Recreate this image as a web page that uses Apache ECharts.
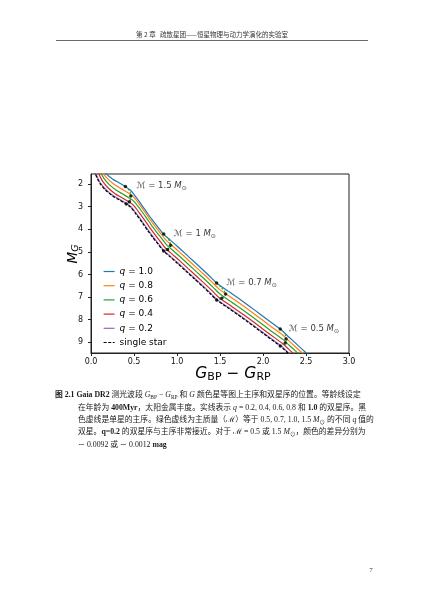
<!DOCTYPE html>
<html><head><meta charset="utf-8">
<script src="https://cdn.jsdelivr.net/npm/echarts@6/dist/echarts.min.js"></script>
<style>html,body{margin:0;padding:0;background:#fff}#c{width:424px;height:600px}</style>
</head><body><div id="c"></div>
<script>
// ---- data (x = G_BP - G_RP, y = M_G) ----
const singleStar = [[0.03,1.40],[0.05,1.55],[0.08,1.80],[0.11,2.00],[0.17,2.27],[0.25,2.52],[0.33,2.70],[0.40,2.86],[0.46,3.02],[0.53,3.36],[0.60,3.73],[0.66,4.06],[0.72,4.37],[0.78,4.66],[0.84,4.95],[0.92,5.22],[1.00,5.49],[1.10,5.84],[1.20,6.19],[1.30,6.54],[1.38,6.83],[1.46,7.13],[1.60,7.50],[1.75,7.90],[1.90,8.32],[2.05,8.75],[2.20,9.17],[2.30,9.52]];
const q02 = [[0.035,1.38],[0.055,1.53],[0.085,1.78],[0.115,1.98],[0.175,2.25],[0.255,2.50],[0.335,2.68],[0.405,2.84],[0.465,3.00],[0.535,3.34],[0.605,3.71],[0.665,4.04],[0.725,4.35],[0.785,4.64],[0.845,4.93],[0.925,5.20],[1.005,5.47],[1.105,5.82],[1.205,6.17],[1.305,6.52],[1.385,6.81],[1.465,7.11],[1.605,7.48],[1.755,7.88],[1.905,8.30],[2.055,8.73],[2.205,9.15],[2.305,9.50],[2.405,9.85]];
const q04 = [[0.06,1.30],[0.08,1.45],[0.11,1.70],[0.14,1.90],[0.20,2.17],[0.28,2.42],[0.36,2.60],[0.43,2.76],[0.49,2.92],[0.56,3.26],[0.63,3.63],[0.69,3.96],[0.75,4.27],[0.81,4.56],[0.87,4.85],[0.95,5.12],[1.03,5.39],[1.13,5.74],[1.23,6.09],[1.33,6.44],[1.41,6.73],[1.49,7.03],[1.63,7.40],[1.78,7.80],[1.93,8.22],[2.08,8.65],[2.23,9.07],[2.33,9.42],[2.43,9.77]];
const q06 = [[0.07,1.14],[0.09,1.29],[0.12,1.54],[0.15,1.74],[0.21,2.01],[0.29,2.26],[0.37,2.44],[0.44,2.60],[0.50,2.76],[0.57,3.10],[0.64,3.47],[0.70,3.80],[0.76,4.11],[0.82,4.40],[0.88,4.69],[0.96,4.96],[1.04,5.23],[1.14,5.58],[1.24,5.93],[1.34,6.28],[1.42,6.57],[1.50,6.87],[1.64,7.24],[1.79,7.64],[1.94,8.06],[2.09,8.49],[2.24,8.91],[2.34,9.26],[2.44,9.61]];
const q08 = [[0.08,1.07],[0.11,1.32],[0.14,1.52],[0.20,1.79],[0.28,2.04],[0.36,2.22],[0.43,2.38],[0.49,2.54],[0.56,2.88],[0.63,3.25],[0.69,3.58],[0.75,3.89],[0.81,4.18],[0.87,4.47],[0.95,4.74],[1.03,5.01],[1.13,5.36],[1.23,5.71],[1.33,6.06],[1.41,6.35],[1.49,6.65],[1.63,7.02],[1.78,7.42],[1.93,7.84],[2.08,8.27],[2.23,8.69],[2.33,9.04],[2.43,9.39],[2.48,9.57]];
const q10 = [[0.05,0.80],[0.08,1.05],[0.11,1.25],[0.17,1.52],[0.25,1.77],[0.33,1.95],[0.40,2.11],[0.46,2.27],[0.53,2.61],[0.60,2.98],[0.66,3.31],[0.72,3.62],[0.78,3.91],[0.84,4.20],[0.92,4.47],[1.00,4.74],[1.10,5.09],[1.20,5.44],[1.30,5.79],[1.38,6.08],[1.46,6.38],[1.60,6.75],[1.75,7.15],[1.90,7.57],[2.05,8.00],[2.20,8.42],[2.30,8.77],[2.40,9.12],[2.50,9.47],[2.55,9.65]];
const arc15 = [[0.40,2.10],[0.445,2.28],[0.463,2.52],[0.447,2.78],[0.41,2.88]];
const arc10 = [[0.845,4.21],[0.90,4.43],[0.925,4.71],[0.89,4.89],[0.845,4.96]];
const arc07 = [[1.46,6.38],[1.525,6.62],[1.565,6.87],[1.52,7.05],[1.46,7.13]];
const arc05 = [[2.20,8.42],[2.25,8.60],[2.268,8.86],[2.258,9.04],[2.20,9.17]];
const dotIndex = [0,2,3,4];
const massLabels = ['1.5','1','0.7','0.5'];
const massLabelPos = [[0.523,2.07],[0.957,4.22],[1.57,6.37],[2.294,8.41]];
const seriesNames = ['q = 1.0','q = 0.8','q = 0.6','q = 0.4','q = 0.2','single star'];
const seriesColors = ['#1f77b4','#ff7f0e','#2ca02c','#d62728','#9467bd','#000000'];
const yTicks = [2,3,4,5,6,7,8,9];

const F = 'DejaVu Sans';
const INK = '#000';
const curves = [q10,q08,q06,q04,q02,singleStar];
const arcs = [arc15,arc10,arc07,arc05];

const series = [];
curves.forEach((d,i)=>{
  series.push({
    name: seriesNames[i], type:'line', data:d, symbol:'none', symbolSize:0, showSymbol:false,
    smooth:0.25, clip:true, z: 2+i,
    lineStyle:{color:seriesColors[i], width:1.2, type: i===5?[3,1.6]:'solid'},
    itemStyle:{color:seriesColors[i]}
  });
});
arcs.forEach(a=>{
  series.push({type:'line', data:a, symbol:'none', smooth:0.4, z:10,
    lineStyle:{color:'#2ca02c', width:1.1, type:[2,1.5]}, silent:true});
});
const dots = [];
arcs.forEach(a=>dotIndex.forEach(k=>dots.push(a[k])));
series.push({type:'scatter', data:dots, symbolSize:3.5, z:11, itemStyle:{color:'#000'}, silent:true});
series.push({type:'scatter', data:massLabelPos.map((p,i)=>[p[0],p[1],i]), symbolSize:1, z:12,
  itemStyle:{color:'rgba(0,0,0,0)'}, silent:true,
  label:{show:true, position:'right', distance:0,
    formatter:p=>'{m|ℳ}{t| = '+massLabels[p.data[2]]+' }{mi|M}{ms|⊙}',
    rich:{
      m:{fontFamily:F,fontSize:8.5,color:INK,fontStyle:'italic',lineHeight:11},
      t:{fontFamily:F,fontSize:8.5,color:INK,lineHeight:11},
      mi:{fontFamily:F,fontSize:8.5,color:INK,fontStyle:'italic',lineHeight:11},
      ms:{fontFamily:F,fontSize:6,color:INK,lineHeight:8,verticalAlign:'bottom'}
    }}
});

const sub = (sz)=>({fontFamily:F,fontSize:sz,color:INK,lineHeight:sz+1,verticalAlign:'bottom'});
const capF = '"Liberation Serif","Noto Sans CJK SC",serif';
const capS = 7.8;
const capRich = {
  b:{fontFamily:capF,fontSize:capS,fontWeight:'bold',color:'#1a1a1a',lineHeight:11},
  i:{fontFamily:capF,fontSize:capS,fontStyle:'italic',color:'#1a1a1a',lineHeight:11},
  s:{fontFamily:capF,fontSize:5.5,color:'#1a1a1a',lineHeight:7,verticalAlign:'bottom'}
};
const captionLines = [
  '{b|图 2.1 Gaia DR2} 测光波段 {i|G}{s|BP} − {i|G}{s|RP} 和 {i|G} 颜色星等图上主序和双星序的位置。等龄线设定',
  '在年龄为 {b|400Myr}，太阳金属丰度。实线表示 {i|q} = 0.2, 0.4, 0.6, 0.8 和 {b|1.0} 的双星序。黑',
  '色虚线是单星的主序。绿色虚线为主质量（ℳ）等于 0.5, 0.7, 1.0, 1.5 {i|M}{s|⊙} 的不同 {i|q} 值的',
  '双星。{b|q=0.2} 的双星序与主序非常接近。对于 ℳ = 0.5 或 1.5 {i|M}{s|⊙}，颜色的差异分别为',
  '∼ 0.0092 或 ∼ 0.0012 {b|mag}'
];
const capX = [55,78,78,78,78];
const capY = [395,407.5,420,432.3,444.5];

const graphic = [
  {type:'text', x:212, y:35, style:{text:'第 2 章   疏散星团——恒星物理与动力学演化的实验室', fontFamily:'"Noto Sans CJK SC"', fontSize:6.5, fill:'#333', align:'center', verticalAlign:'middle'}},
  {type:'line', shape:{x1:56,y1:40.5,x2:368,y2:40.5}, style:{stroke:'#444', lineWidth:0.8}},
  {type:'text', x:233, y:374, style:{
    text:'{g|G}{s|BP}{g| − }{g|G}{s|RP}', align:'center', verticalAlign:'middle',
    rich:{g:{fontFamily:F,fontSize:15.5,fontStyle:'italic',color:INK,lineHeight:17}, s:sub(11)}}},
  {type:'text', x:73, y:254, rotation:Math.PI/2, style:{
    text:'{g|M}{s|G}', align:'center', verticalAlign:'middle',
    rich:{g:{fontFamily:F,fontSize:13.5,fontStyle:'italic',color:INK,lineHeight:15}, s:{fontFamily:F,fontSize:9.5,fontStyle:'italic',color:INK,lineHeight:10,verticalAlign:'bottom'}}}},
  {type:'text', x:371, y:570, style:{text:'7', fontFamily:capF, fontSize:7, fill:'#333', align:'center', verticalAlign:'middle'}}
];
captionLines.forEach((t,i)=>graphic.push({type:'text', x:capX[i], y:capY[i], style:{
  text:t, fontFamily:capF, fontSize:capS, fill:'#1a1a1a', verticalAlign:'middle', rich:capRich}}));

const chart = echarts.init(document.getElementById('c'), null, {renderer:'canvas'});
chart.setOption({
  animation:false,
  backgroundColor:'#fff',
  grid:{left:91, right:75, top:174, bottom:247, show:true, borderColor:'#222', borderWidth:1, outerBoundsMode:'none'},
  xAxis:{type:'value', min:0, max:3, interval:0.5,
    axisLine:{show:true, lineStyle:{color:'#222', width:1}},
    axisTick:{show:true, length:3, lineStyle:{color:'#222'}},
    axisLabel:{fontFamily:F, fontSize:8, color:'#111', margin:4.5, formatter:v=>v.toFixed(1)},
    splitLine:{show:false}},
  yAxis:{type:'value', inverse:true, min:1.55, max:9.48,
    axisLine:{show:true, lineStyle:{color:'#222', width:1}},
    axisTick:{show:true, length:3, customValues:yTicks, lineStyle:{color:'#222'}},
    axisLabel:{fontFamily:F, fontSize:8, color:'#111', margin:8, customValues:yTicks},
    splitLine:{show:false}},
  legend:{orient:'vertical', left:98, top:261.5, itemWidth:11, itemHeight:10, itemGap:4.2,
    data:seriesNames, selectedMode:false,
    itemStyle:{opacity:0}, lineStyle:{width:1.2},
    formatter:n=> n.charAt(0)==='q' ? '{q|q}{t|'+n.slice(1)+'}' : '{t|'+n+'}',
    textStyle:{fontFamily:F, fontSize:9, color:INK, lineHeight:10,
      rich:{q:{fontFamily:F,fontSize:9,fontStyle:'italic',color:INK,lineHeight:10}, t:{fontFamily:F,fontSize:9,color:INK,lineHeight:10}}}},
  series:series,
  graphic:graphic
});
</script></body></html>
